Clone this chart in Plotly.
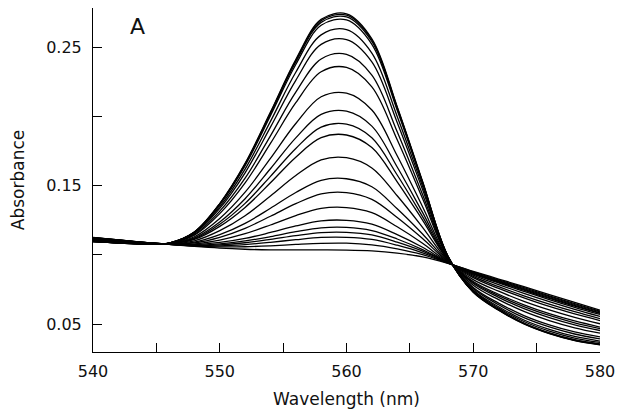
import plotly.graph_objects as go

wavelength = [540, 542, 544, 546, 548, 550, 552, 554, 556, 558, 560,
              562, 564, 566, 568, 570, 572, 574, 576, 578, 580]

spectra = [
    [0.1095, 0.1085, 0.1078, 0.1085, 0.1165, 0.1370, 0.1660, 0.2030, 0.2410, 0.2700, 0.2740, 0.2560, 0.2070, 0.1530, 0.0990, 0.0730, 0.0600, 0.0500, 0.0430, 0.0380, 0.0350],
    [0.1095, 0.1085, 0.1078, 0.1085, 0.1164, 0.1368, 0.1656, 0.2024, 0.2402, 0.2690, 0.2730, 0.2551, 0.2064, 0.1527, 0.0990, 0.0731, 0.0601, 0.0502, 0.0432, 0.0382, 0.0352],
    [0.1095, 0.1085, 0.1078, 0.1085, 0.1164, 0.1366, 0.1652, 0.2017, 0.2392, 0.2678, 0.2718, 0.2540, 0.2056, 0.1523, 0.0989, 0.0732, 0.0603, 0.0504, 0.0434, 0.0384, 0.0353],
    [0.1096, 0.1086, 0.1078, 0.1085, 0.1162, 0.1362, 0.1644, 0.2004, 0.2374, 0.2657, 0.2696, 0.2520, 0.2043, 0.1516, 0.0989, 0.0734, 0.0606, 0.0507, 0.0437, 0.0387, 0.0357],
    [0.1097, 0.1087, 0.1079, 0.1084, 0.1158, 0.1348, 0.1619, 0.1963, 0.2318, 0.2588, 0.2626, 0.2457, 0.1999, 0.1494, 0.0987, 0.0740, 0.0615, 0.0518, 0.0449, 0.0399, 0.0367],
    [0.1098, 0.1088, 0.1079, 0.1084, 0.1154, 0.1335, 0.1592, 0.1922, 0.2260, 0.2519, 0.2554, 0.2393, 0.1955, 0.1471, 0.0984, 0.0746, 0.0625, 0.0529, 0.0461, 0.0410, 0.0377],
    [0.1100, 0.1089, 0.1080, 0.1083, 0.1147, 0.1315, 0.1553, 0.1859, 0.2174, 0.2414, 0.2447, 0.2297, 0.1888, 0.1436, 0.0981, 0.0756, 0.0639, 0.0546, 0.0479, 0.0428, 0.0393],
    [0.1102, 0.1090, 0.1081, 0.1083, 0.1141, 0.1297, 0.1519, 0.1804, 0.2098, 0.2322, 0.2353, 0.2212, 0.1830, 0.1406, 0.0978, 0.0764, 0.0651, 0.0561, 0.0494, 0.0443, 0.0407],
    [0.1105, 0.1093, 0.1082, 0.1082, 0.1130, 0.1262, 0.1452, 0.1696, 0.1948, 0.2141, 0.2167, 0.2045, 0.1715, 0.1347, 0.0973, 0.0780, 0.0676, 0.0591, 0.0525, 0.0473, 0.0434],
    [0.1107, 0.1094, 0.1083, 0.1081, 0.1122, 0.1237, 0.1405, 0.1621, 0.1844, 0.2014, 0.2037, 0.1929, 0.1634, 0.1306, 0.0969, 0.0792, 0.0693, 0.0611, 0.0546, 0.0494, 0.0453],
    [0.1109, 0.1096, 0.1084, 0.1080, 0.1116, 0.1220, 0.1371, 0.1566, 0.1768, 0.1922, 0.1943, 0.1845, 0.1576, 0.1276, 0.0966, 0.0800, 0.0705, 0.0626, 0.0562, 0.0509, 0.0467],
    [0.1110, 0.1097, 0.1084, 0.1080, 0.1111, 0.1205, 0.1342, 0.1520, 0.1705, 0.1846, 0.1865, 0.1774, 0.1527, 0.1250, 0.0963, 0.0807, 0.0715, 0.0639, 0.0575, 0.0522, 0.0478],
    [0.1113, 0.1099, 0.1085, 0.1079, 0.1101, 0.1174, 0.1282, 0.1425, 0.1573, 0.1686, 0.1701, 0.1627, 0.1426, 0.1198, 0.0958, 0.0821, 0.0737, 0.0664, 0.0602, 0.0548, 0.0502],
    [0.1116, 0.1101, 0.1086, 0.1078, 0.1092, 0.1145, 0.1227, 0.1336, 0.1450, 0.1538, 0.1549, 0.1491, 0.1332, 0.1150, 0.0954, 0.0835, 0.0757, 0.0689, 0.0627, 0.0573, 0.0525],
    [0.1118, 0.1102, 0.1087, 0.1077, 0.1086, 0.1126, 0.1191, 0.1278, 0.1369, 0.1440, 0.1449, 0.1400, 0.1269, 0.1117, 0.0951, 0.0844, 0.0770, 0.0704, 0.0644, 0.0589, 0.0539],
    [0.1120, 0.1104, 0.1088, 0.1077, 0.1079, 0.1106, 0.1152, 0.1215, 0.1283, 0.1335, 0.1341, 0.1304, 0.1202, 0.1083, 0.0947, 0.0853, 0.0785, 0.0721, 0.0661, 0.0606, 0.0555],
    [0.1121, 0.1105, 0.1089, 0.1076, 0.1073, 0.1089, 0.1118, 0.1161, 0.1208, 0.1245, 0.1249, 0.1221, 0.1145, 0.1054, 0.0945, 0.0861, 0.0797, 0.0736, 0.0677, 0.0621, 0.0569],
    [0.1122, 0.1106, 0.1089, 0.1076, 0.1070, 0.1079, 0.1100, 0.1131, 0.1167, 0.1195, 0.1198, 0.1175, 0.1114, 0.1037, 0.0943, 0.0866, 0.0803, 0.0744, 0.0685, 0.0630, 0.0576],
    [0.1123, 0.1106, 0.1089, 0.1076, 0.1068, 0.1072, 0.1087, 0.1111, 0.1138, 0.1160, 0.1162, 0.1143, 0.1091, 0.1026, 0.0942, 0.0869, 0.0808, 0.0750, 0.0691, 0.0635, 0.0581],
    [0.1123, 0.1107, 0.1089, 0.1076, 0.1066, 0.1065, 0.1074, 0.1090, 0.1109, 0.1125, 0.1126, 0.1111, 0.1069, 0.1014, 0.0941, 0.0872, 0.0813, 0.0755, 0.0697, 0.0641, 0.0587],
    [0.1124, 0.1107, 0.1090, 0.1075, 0.1063, 0.1057, 0.1058, 0.1065, 0.1075, 0.1083, 0.1084, 0.1072, 0.1043, 0.1001, 0.0940, 0.0876, 0.0819, 0.0762, 0.0704, 0.0648, 0.0593],
    [0.1125, 0.1108, 0.1090, 0.1075, 0.1060, 0.1048, 0.1040, 0.1036, 0.1035, 0.1035, 0.1034, 0.1028, 0.1012, 0.0985, 0.0938, 0.0880, 0.0825, 0.0770, 0.0712, 0.0656, 0.0600],
]

x_tick_values = [540, 545, 550, 555, 560, 565, 570, 575, 580]
x_tick_labels = ["540", "", "550", "", "560", "", "570", "", "580"]
y_tick_values = [0.05, 0.10, 0.15, 0.20, 0.25]
y_tick_labels = ["0.05", "", "0.15", "", "0.25"]

fig = go.Figure()
for s in spectra:
    fig.add_trace(go.Scatter(
        x=wavelength, y=s, mode="lines",
        line=dict(color="black", width=1.3, shape="spline", smoothing=1.0),
        showlegend=False, hoverinfo="skip"))

font = "DejaVu Sans, Verdana, sans-serif"
fig.update_layout(
    width=616, height=406,
    margin=dict(l=85, r=24, t=0, b=62),
    paper_bgcolor="white", plot_bgcolor="white",
    font=dict(family=font, size=16, color="#111"),
    xaxis=dict(range=[540, 580], tickvals=x_tick_values, ticktext=x_tick_labels,
               ticks="inside", ticklen=9, tickwidth=1, tickcolor="black",
               showline=True, linecolor="black", linewidth=1, automargin=False,
               showgrid=False, zeroline=False, ticklabelstandoff=5,
               title=dict(text="Wavelength (nm)", font=dict(size=17), standoff=12)),
    yaxis=dict(range=[0.0298, 0.2782], tickvals=y_tick_values, ticktext=y_tick_labels,
               ticks="inside", ticklen=9, tickwidth=1, tickcolor="black",
               showline=True, linecolor="black", linewidth=1, automargin=False,
               showgrid=False, zeroline=False, ticklabelstandoff=7,
               title=dict(text="Absorbance", font=dict(size=17), standoff=20)),
    annotations=[dict(x=543.5, y=0.2652, xref="x", yref="y", text="A",
                      showarrow=False, font=dict(size=22, color="#111"))],
)

fig.write_html("out.html")
